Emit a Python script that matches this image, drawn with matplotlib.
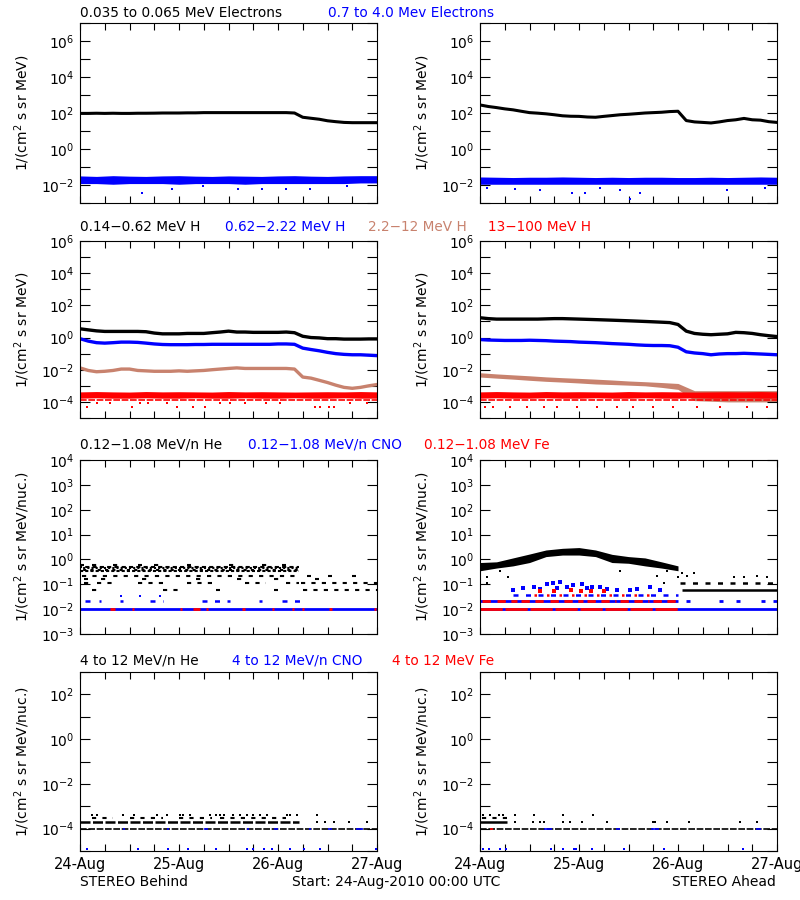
import numpy as np
import matplotlib.pyplot as plt
from matplotlib.ticker import FixedLocator, FuncFormatter, MultipleLocator, NullLocator

plt.rcParams['font.family'] = 'DejaVu Sans'

BLUE = '#0000ff'
RED = '#ff0000'
BROWN = '#c8826e'

# time grids (hours after 24-Aug-2010 00:00)
t2 = np.arange(0, 73, 2)
t4 = np.arange(0, 73, 4)
day_labels = ['24-Aug', '25-Aug', '26-Aug', '27-Aug']

# ---------- row 1 : electrons ----------
e_lo_b = [95, 95, 97, 95, 97, 95, 95, 97, 97, 98, 100, 100, 100, 102, 102, 105, 105, 105, 105,
          105, 105, 105, 105, 105, 105, 105, 100, 58, 51, 45, 37, 33, 30, 29, 29, 29, 29]
e_lo_a = [280, 230, 200, 170, 150, 125, 105, 98, 90, 80, 70, 66, 65, 60, 58, 65, 72, 80, 85,
          92, 100, 105, 110, 120, 125, 38, 32, 30, 28, 32, 38, 42, 50, 42, 40, 33, 30]
e_hi_b_lo = [0.012, 0.012, 0.011, 0.012, 0.012, 0.012, 0.011, 0.012, 0.012, 0.012,
             0.011, 0.012, 0.012, 0.012, 0.012, 0.012, 0.012, 0.013, 0.013]
e_hi_b_hi = [0.032, 0.03, 0.033, 0.031, 0.03, 0.032, 0.033, 0.031, 0.03, 0.032,
             0.031, 0.03, 0.032, 0.033, 0.031, 0.03, 0.032, 0.033, 0.033]
e_hi_a_lo = [0.011, 0.011, 0.011, 0.011, 0.011, 0.011, 0.011, 0.011, 0.011, 0.011,
             0.011, 0.011, 0.011, 0.011, 0.011, 0.011, 0.011, 0.011, 0.011]
e_hi_a_hi = [0.028, 0.027, 0.026, 0.027, 0.027, 0.028, 0.027, 0.026, 0.027, 0.026,
             0.027, 0.027, 0.026, 0.026, 0.027, 0.026, 0.027, 0.028, 0.027]
e_hi_b_out_t = [15, 22.2, 29.8, 38.3, 44, 50, 55.8, 64.7]
e_hi_b_out_v = [0.0035, 0.006, 0.009, 0.006, 0.0063, 0.006, 0.006, 0.009]
e_hi_a_out_t = [1.6, 8.5, 14.6, 22.2, 25.5, 29, 34, 36.4, 38.7, 59.9, 69.2]
e_hi_a_out_v = [0.0065, 0.006, 0.005, 0.0038, 0.0035, 0.007, 0.005, 0.0016, 0.0035, 0.005, 0.0065]

# ---------- row 2 : protons ----------
h1_b = [3.5, 3.0, 2.6, 2.4, 2.4, 2.4, 2.4, 2.4, 2.3, 1.9, 1.7, 1.7, 1.7, 1.8, 1.8, 1.8, 2.0, 2.2, 2.5,
        2.2, 2.2, 2.1, 2.1, 2.1, 2.1, 2.2, 2.0, 1.2, 1.0, 0.95, 0.85, 0.85, 0.8, 0.8, 0.8, 0.82, 0.82]
h2_b = [0.85, 0.6, 0.48, 0.45, 0.48, 0.52, 0.52, 0.5, 0.45, 0.4, 0.37, 0.36, 0.36, 0.36, 0.37, 0.37,
        0.38, 0.38, 0.38, 0.38, 0.38, 0.38, 0.38, 0.38, 0.4, 0.4, 0.38, 0.22, 0.18, 0.15, 0.12, 0.1,
        0.09, 0.085, 0.085, 0.08, 0.075]
h3_b = [0.013, 0.009, 0.0075, 0.008, 0.009, 0.011, 0.011, 0.009, 0.0085, 0.008, 0.008, 0.008, 0.0085,
        0.008, 0.0085, 0.009, 0.01, 0.011, 0.012, 0.013, 0.012, 0.012, 0.012, 0.012, 0.012, 0.012,
        0.011, 0.0035, 0.003, 0.0022, 0.0016, 0.0011, 0.0008, 0.0007, 0.0008, 0.001, 0.0012]
h1_a = [17, 15, 14, 14, 14, 14, 14, 14, 14.5, 15, 15, 14.5, 14, 13.5, 13, 12.5, 12, 11.5, 11, 10.5,
        10, 9.5, 9, 8.5, 6.5, 2.5, 1.8, 1.6, 1.5, 1.6, 1.7, 2.1, 2.0, 1.8, 1.5, 1.3, 1.15]
h2_a = [0.75, 0.7, 0.68, 0.66, 0.66, 0.66, 0.68, 0.66, 0.64, 0.6, 0.58, 0.56, 0.52, 0.5, 0.48, 0.45,
        0.42, 0.4, 0.38, 0.35, 0.33, 0.32, 0.32, 0.31, 0.25, 0.13, 0.11, 0.1, 0.085, 0.095, 0.1, 0.1,
        0.105, 0.1, 0.095, 0.09, 0.085]
h3_a_lo = [0.0035, 0.003, 0.0026, 0.0022, 0.0019, 0.0017, 0.0015, 0.0013, 0.0012, 0.0011,
           0.001, 0.0008, 0.0006, 0.00012, 0.00011, 0.0001, 0.0001, 0.0001, 0.0001]
h3_a_hi = [0.0065, 0.0055, 0.0048, 0.0042, 0.0036, 0.0032, 0.0029, 0.0026, 0.0023, 0.002,
           0.0018, 0.0016, 0.0014, 0.0005, 0.0005, 0.0005, 0.0005, 0.0005, 0.0005]
h4_lo = [1.7e-4, 1.8e-4, 1.7e-4, 1.7e-4, 1.8e-4, 1.7e-4, 1.7e-4, 1.8e-4, 1.7e-4, 1.7e-4,
         1.8e-4, 1.7e-4, 1.7e-4, 1.8e-4, 1.7e-4, 1.7e-4, 1.8e-4, 1.7e-4, 1.7e-4]
h4_hi = [4.2e-4, 4.4e-4, 4.2e-4, 4.1e-4, 4.4e-4, 4.2e-4, 4.3e-4, 4.2e-4, 4.1e-4, 4.4e-4,
         4.2e-4, 4.3e-4, 4.2e-4, 4.1e-4, 4.2e-4, 4.3e-4, 4.2e-4, 4.4e-4, 4.2e-4]
h4_line = 1.35e-4
h4_b_low_t = [1.8, 4, 7.3, 12.5, 14.6, 16.6, 21, 23.5, 27.5, 30.3, 34, 36.4, 40, 45, 48.5,
              57, 58.2, 60.3, 61.5, 65.5, 69.6]
h4_b_low_v = [4.6e-5, 8.3e-5, 8.3e-5, 4.6e-5, 8.3e-5, 8.3e-5, 8.3e-5, 4.6e-5, 4.6e-5, 4.6e-5,
              8.3e-5, 8.3e-5, 8.3e-5, 8.3e-5, 8.3e-5, 4.6e-5, 4.6e-5, 4.6e-5, 4.6e-5, 8.3e-5, 8.3e-5]
h4_a_low_t = [1.2, 3.2, 7.3, 11.3, 15.4, 18.6, 23.5, 28.3, 33.2, 37.2, 42, 46.9, 52.6, 58.2, 64.7, 69.6]
h4_a_low_v = [4.5e-5] * 16

# ---------- row 3 : 0.12-1.08 MeV/n ions ----------
he_b_levels = [0.6, 0.5, 0.44, 0.385, 0.33, 0.22, 0.165, 0.11, 0.057]
he_b_spans = [
    [(0, 1), (3, 4), (8, 10), (14, 15), (18, 20), (26, 27), (36, 38), (44, 46), (49, 50)],
    [(0, 53)], [(0, 53)], [(0, 53)], [(0, 53)],
    [(0.5, 53), (55, 56), (60, 61), (66, 67)],
    [(1, 2), (5, 7), (15, 17), (28, 30), (38, 40), (47, 49), (57, 58)],
    [(1, 3), (4, 8), (14, 20), (26, 33), (40, 45), (50, 53), (53.5, 72)],
    [(3, 4), (20, 24), (33, 34), (47, 48), (54, 72)],
]
cno_b_1 = [(0, 72)]
cno_b_2 = [(1.2, 2.4), (4.6, 5.2), (9.8, 10.4), (17, 20), (29.5, 36.4), (43.5, 44), (49, 55)]
fe_b_1 = [(7.3, 8.5), (12.5, 13), (24.3, 24.8), (27.5, 29), (30.5, 31), (39.3, 40.1),
          (46.5, 47), (51.3, 51.8), (53.9, 54.4), (60.3, 61.2), (71.3, 71.8)]

he_a_lo = [0.35, 0.45, 0.55, 0.75, 1.3, 1.5, 1.5, 1.3, 0.75, 0.7, 0.55, 0.45, 0.35]
he_a_hi = [0.75, 0.8, 1.15, 1.65, 2.4, 2.8, 3.0, 2.4, 1.6, 1.3, 1.15, 0.8, 0.55]
he_a_out_t = [1.8, 1.8, 4.9, 6.9, 34, 42.9, 44.5, 45.3, 48, 49, 50.2, 51.8, 61.5, 63.9, 67.1, 69.6]
he_a_out_v = [0.2, 0.11, 0.33, 0.2, 0.35, 0.22, 0.11, 0.35, 0.2, 0.28, 0.22, 0.28, 0.2, 0.2, 0.22, 0.2]
he_a_11 = [(48.5, 72)]
he_a_057 = [(49, 72)]
cno_a_1 = [(0, 72)]
cno_a_2 = [(0, 48), (50, 51), (58, 59), (62, 63), (68, 69), (71, 72)]
cno_a_3 = [(8, 48)]
cno_a_out_t = [8.1, 10.5, 13, 14.6, 16.2, 17.8, 18.6, 19.4, 21, 22.6, 24.7, 25.9, 27.1, 29.1,
               30.7, 33.2, 36.4, 38, 41.1, 43.7]
cno_a_out_v = [0.06, 0.07, 0.08, 0.065, 0.1, 0.11, 0.07, 0.12, 0.08, 0.09, 0.1, 0.07, 0.08, 0.08,
               0.065, 0.06, 0.06, 0.062, 0.08, 0.06]
fe_a_1 = [(0, 48)]
fe_a_2 = [(0.5, 3), (4, 9), (10, 16), (17, 25), (26, 33), (34, 41), (42, 47.5)]
fe_a_3 = [(13, 41)]
fe_a_out_t = [14.6, 18, 22, 24.5, 27, 30]
fe_a_out_v = [0.055, 0.055, 0.06, 0.055, 0.055, 0.055]

# ---------- row 4 : 4-12 MeV/n ions ----------
he4_b_1 = [(0, 72)]
he4_b_2 = [(0, 53)]
he4_b_3 = [(3, 8), (12, 20), (24, 32), (34, 50)]
he4_b_2_t = [57.4, 59.4, 61.5, 65.1, 69.6]
he4_b_4_t = [2.8, 4, 10.5, 13, 18.6, 21, 24.3, 25, 26.7, 31.5, 33, 34, 34.8, 37.2, 38.8, 40.4,
             42, 43.7, 45.3, 50.2, 51, 52.6, 57.4]
cno4_b_1 = [(10.5, 11), (21, 21.5), (30, 31), (40.5, 41), (47, 48), (55.5, 56), (60, 61), (67, 68.5)]
cno4_b_low_t = [1.8, 14, 21.4, 26.3, 33, 40.4, 42, 44.5, 46.5, 51, 54.2, 58.2, 71.8]

he4_a_1 = [(0, 72)]
he4_a_2 = [(0, 6.5)]
he4_a_3 = [(0.5, 6.5)]
he4_a_2_t = [8.5, 12.9, 14.6, 15.5, 20.2, 21.8, 24.7, 30.7, 42, 42.5, 45.3, 50.6, 63.1, 67.1]
he4_a_4_t = [0.8, 2.5, 4.5, 5.5, 8.5, 13, 20.2, 27.5]
cno4_a_1 = [(15.5, 17.5), (33, 34), (41.5, 43.5), (67, 68)]
cno4_a_low_t = [0.8, 2.3, 4.9, 6.3, 17.2, 20.2, 22.7, 23.3, 27.1, 34.8, 44.5, 63.7]
fe4_a_1 = [(2.5, 3.2)]

fig = plt.figure(figsize=(8, 9), dpi=100)


def make_ax(left_px, top_px, bottom_px, ylo, yhi, step, ylabel, bottom_row):
    ax = fig.add_axes([left_px / 800, 1 - bottom_px / 900, 297 / 800, (bottom_px - top_px) / 900])
    ax.set_yscale('log')
    ax.set_xlim(0, 72)
    ax.set_ylim(ylo, yhi)
    ax.xaxis.set_major_locator(FixedLocator([0, 24, 48, 72]))
    ax.xaxis.set_minor_locator(MultipleLocator(6))
    dec = np.arange(round(np.log10(ylo)), round(np.log10(yhi)) + 1)
    ax.yaxis.set_major_locator(FixedLocator(10.0 ** dec))
    ax.yaxis.set_minor_locator(NullLocator())

    def fmt(v, p):
        e = int(round(np.log10(v)))
        return r'$10^{%d}$' % e if e % step == 0 else ''
    ax.yaxis.set_major_formatter(FuncFormatter(fmt))
    ax.tick_params(which='both', direction='in', top=True, right=True, length=5, width=0.8,
                   labelsize=10, pad=4)
    ax.tick_params(axis='y', length=7)
    ax.tick_params(axis='x', labelsize=10.5)
    if bottom_row:
        ax.set_xticklabels(day_labels)
    else:
        ax.tick_params(axis='x', labelbottom=False)
    ax.set_ylabel(ylabel, fontsize=10)
    ax.yaxis.set_label_coords(-0.16, 0.5)
    for s in ax.spines.values():
        s.set_linewidth(0.8)
    return ax


def spans(ax, level, segs, color, ls='-', lw=2.0):
    for a, b in segs:
        ax.plot([a, b], [level, level], color=color, lw=lw, ls=ls, solid_capstyle='butt')


def dots(ax, t, v, color, ms=2.0):
    ax.plot(t, v, 's', color=color, ms=ms, mew=0)


LX, RX = 80, 480
lab1 = r'1/(cm$^2$ s sr MeV)'
lab2 = r'1/(cm$^2$ s sr MeV/nuc.)'
DENSE = (0, (4, 1))
SPARSE = (0, (2, 3))
SPECKLE = [(0, (1.5, 1)), (1, (2, 1.5)), (0.5, (1, 1)), (2, (1.5, 2))]

# row 1
for left, lo, hi_lo, hi_hi, ot, ov in [(LX, e_lo_b, e_hi_b_lo, e_hi_b_hi, e_hi_b_out_t, e_hi_b_out_v),
                                       (RX, e_lo_a, e_hi_a_lo, e_hi_a_hi, e_hi_a_out_t, e_hi_a_out_v)]:
    ax = make_ax(left, 23, 203, 1e-3, 1e7, 2, lab1, False)
    ax.plot(t2, lo, color='black', lw=2.2)
    ax.fill_between(t4, hi_lo, hi_hi, color=BLUE, lw=0)
    dots(ax, ot, ov, BLUE)

# row 2
for left, a1, a2, a3, lowt, lowv in [(LX, h1_b, h2_b, h3_b, h4_b_low_t, h4_b_low_v),
                                     (RX, h1_a, h2_a, None, h4_a_low_t, h4_a_low_v)]:
    ax = make_ax(left, 241, 418, 1e-5, 1e6, 2, lab1, False)
    ax.plot(t2, a1, color='black', lw=2.4)
    ax.plot(t2, a2, color=BLUE, lw=2.4)
    if a3 is not None:
        ax.plot(t2, a3, color=BROWN, lw=2.4)
    else:
        ax.fill_between(t4, h3_a_lo, h3_a_hi, color=BROWN, lw=0)
    ax.fill_between(t4, h4_lo, h4_hi, color=RED, lw=0)
    spans(ax, h4_line, [(0, 72)], RED, ls=DENSE, lw=1.2)
    dots(ax, lowt, lowv, RED)

# row 3 left
ax = make_ax(LX, 460, 634, 1e-3, 1e4, 1, lab2, False)
for i, (lvl, segs) in enumerate(zip(he_b_levels, he_b_spans)):
    if len(segs) == 1:
        ls = SPECKLE[i % len(SPECKLE)]
    else:
        ls = SPARSE
    spans(ax, lvl, segs, 'black', ls=ls, lw=1.5)
spans(ax, 0.0105, cno_b_1, BLUE, lw=2.0)
spans(ax, 0.022, cno_b_2, BLUE, ls=SPARSE, lw=1.8)
spans(ax, 0.0105, fe_b_1, RED, lw=2.0)
dots(ax, [10, 14.5, 19.4], [0.033, 0.033, 0.033], BLUE)

# row 3 right
ax = make_ax(RX, 460, 634, 1e-3, 1e4, 1, lab2, False)
ax.fill_between(t4[:13], he_a_lo, he_a_hi, color='black', lw=0)
dots(ax, he_a_out_t, he_a_out_v, 'black')
spans(ax, 0.11, he_a_11, 'black', ls=SPARSE, lw=1.8)
spans(ax, 0.057, he_a_057, 'black', lw=1.8)
spans(ax, 0.0105, cno_a_1, BLUE, lw=2.0)
spans(ax, 0.022, cno_a_2, BLUE, lw=2.0)
spans(ax, 0.038, cno_a_3, BLUE, ls=SPARSE, lw=1.8)
dots(ax, cno_a_out_t, cno_a_out_v, BLUE, ms=2.5)
spans(ax, 0.0105, fe_a_1, RED, ls=(0, (8, 1)), lw=2.0)
spans(ax, 0.022, fe_a_2, RED, ls=(0, (3, 2)), lw=2.0)
spans(ax, 0.038, fe_a_3, RED, ls=(0, (1, 4)), lw=1.8)
dots(ax, fe_a_out_t, fe_a_out_v, RED, ms=2.5)

# row 4 left
ax = make_ax(LX, 672, 851, 1e-5, 1e3, 2, lab2, True)
spans(ax, 1e-4, he4_b_1, 'black', ls=DENSE, lw=1.2)
spans(ax, 2e-4, he4_b_2, 'black', ls=DENSE, lw=1.8)
spans(ax, 3e-4, he4_b_3, 'black', ls=SPARSE, lw=1.5)
dots(ax, he4_b_2_t, [2e-4] * len(he4_b_2_t), 'black')
dots(ax, he4_b_4_t, [4.2e-4] * len(he4_b_4_t), 'black')
spans(ax, 1e-4, cno4_b_1, BLUE, lw=1.2)
dots(ax, cno4_b_low_t, [1.2e-5] * len(cno4_b_low_t), BLUE)

# row 4 right
ax = make_ax(RX, 672, 851, 1e-5, 1e3, 2, lab2, True)
spans(ax, 1e-4, he4_a_1, 'black', ls=DENSE, lw=1.2)
spans(ax, 2e-4, he4_a_2, 'black', lw=1.8)
spans(ax, 3e-4, he4_a_3, 'black', ls=SPARSE, lw=1.5)
dots(ax, he4_a_2_t, [2e-4] * len(he4_a_2_t), 'black')
dots(ax, he4_a_4_t, [4.2e-4] * len(he4_a_4_t), 'black')
spans(ax, 1e-4, cno4_a_1, BLUE, lw=1.2)
spans(ax, 1e-4, fe4_a_1, RED, lw=1.2)
dots(ax, cno4_a_low_t, [1.2e-5] * len(cno4_a_low_t), BLUE)

# panel titles
titles = [
    (80, 13, '0.035 to 0.065 MeV Electrons', 'black'),
    (328, 13, '0.7 to 4.0 Mev Electrons', BLUE),
    (80, 227, '0.14\u22120.62 MeV H', 'black'),
    (225, 227, '0.62\u22122.22 MeV H', BLUE),
    (368, 227, '2.2\u221212 MeV H', BROWN),
    (488, 227, '13\u2212100 MeV H', RED),
    (80, 445, '0.12\u22121.08 MeV/n He', 'black'),
    (248, 445, '0.12\u22121.08 MeV/n CNO', BLUE),
    (424, 445, '0.12\u22121.08 MeV Fe', RED),
    (80, 661, '4 to 12 MeV/n He', 'black'),
    (232, 661, '4 to 12 MeV/n CNO', BLUE),
    (392, 661, '4 to 12 MeV Fe', RED),
]
for x, y, s, c in titles:
    fig.text(x / 800, 1 - y / 900, s, color=c, fontsize=9.8, ha='left', va='center')

fig.text(80 / 800, 1 - 882 / 900, 'STEREO Behind', fontsize=10, ha='left', va='center')
fig.text(292 / 800, 1 - 882 / 900, 'Start: 24-Aug-2010 00:00 UTC', fontsize=10, ha='left', va='center')
fig.text(776 / 800, 1 - 882 / 900, 'STEREO Ahead', fontsize=10, ha='right', va='center')

fig.savefig('out.png', dpi=100)
